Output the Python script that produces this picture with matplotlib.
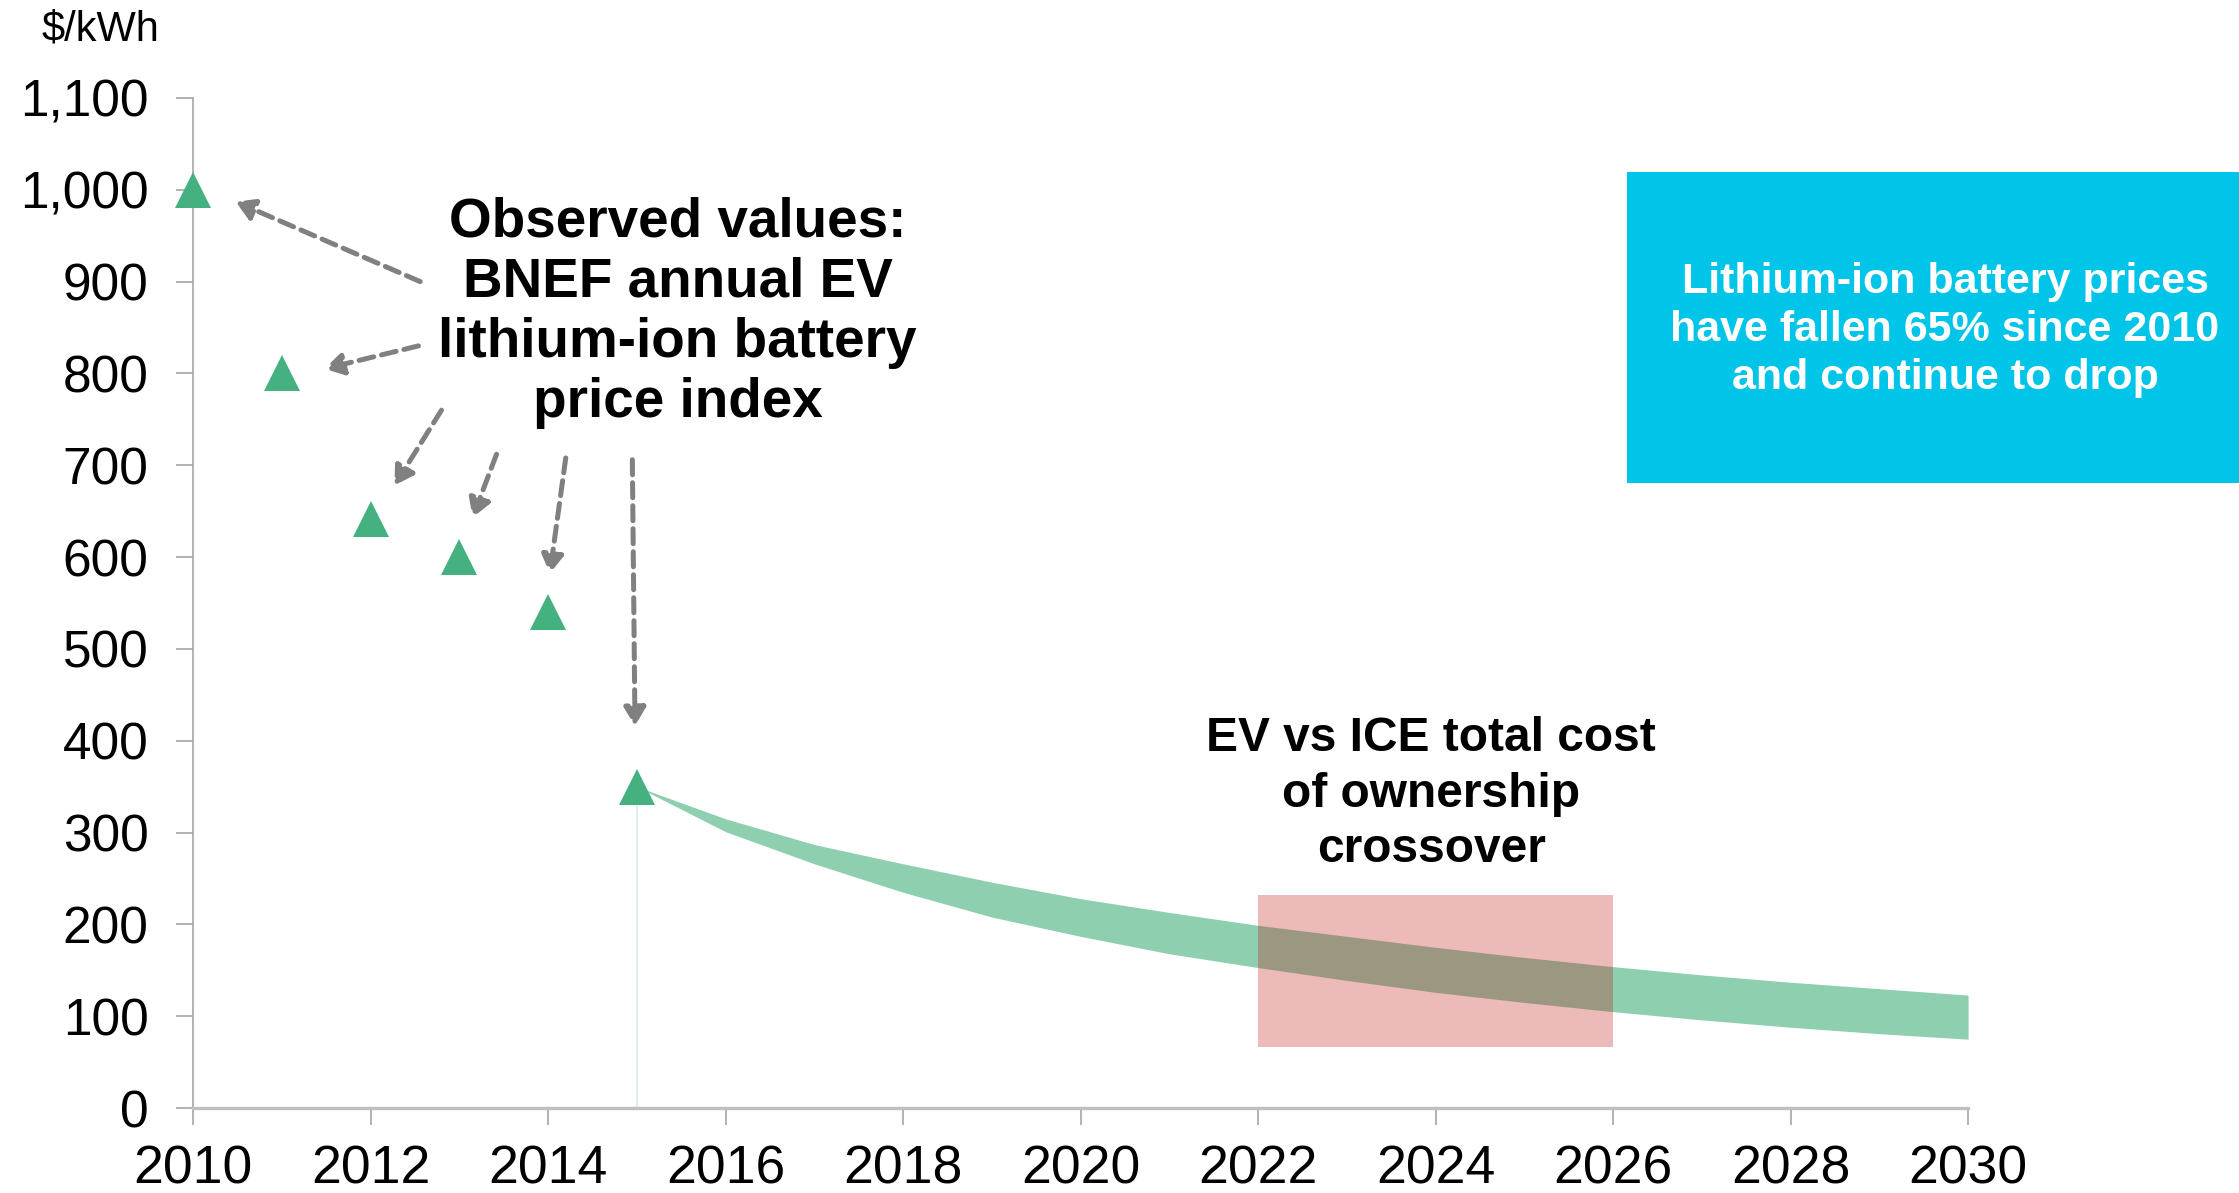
# Lithium-ion battery price index with projected band

import numpy as np
import matplotlib.pyplot as plt
from matplotlib.patches import Rectangle

plt.rcParams['font.family'] = ['Liberation Sans', 'DejaVu Sans']

# Observed values (BNEF annual index)
obs_years = [2010, 2011, 2012, 2013, 2014, 2015]
obs_price = [1000, 800, 642, 600, 540, 350]

# Projected band
band_years = [2015, 2016, 2017, 2018, 2019, 2020, 2021, 2022, 2023,
              2024, 2025, 2026, 2027, 2028, 2029, 2030]
band_upper = [350, 315, 287, 266, 246, 228, 213, 199, 187,
              175, 164, 154, 145, 137, 130, 123]
band_lower = [350, 301, 266, 235, 208, 187, 168, 153, 139,
              126, 115, 105, 96, 88, 81, 75]

# TCO crossover window
crossover_years = [2022, 2026]
crossover_price = [66, 232]

y_ticks = list(range(0, 1101, 100))
x_ticks = list(range(2010, 2031, 2))

fig = plt.figure(figsize=(22.39, 11.93), dpi=100)
ax = fig.add_axes([0.0862, 0.0712, 0.7928, 0.8467])

# faint line under the 2015 point
ax.plot([obs_years[-1], obs_years[-1]], [0, obs_price[-1]], color='#D6ECE4', lw=1.2, zorder=1)

ax.fill_between(band_years, band_lower, band_upper, color='#8ECFB0', lw=0, zorder=2)

ax.add_patch(Rectangle((crossover_years[0], crossover_price[0]),
                       crossover_years[1] - crossover_years[0],
                       crossover_price[1] - crossover_price[0],
                       facecolor='#C00000', alpha=0.27, lw=0, zorder=3))

ax.plot(obs_years, obs_price, linestyle='none', marker='^', markersize=26,
        color='#45B080', markeredgewidth=0, clip_on=False, zorder=5)

ax.set_xlim(2010, 2030)
ax.set_ylim(0, 1100)
ax.set_xticks(x_ticks)
ax.set_yticks(y_ticks)
ax.set_yticklabels([f'{v:,}' for v in y_ticks])
ax.tick_params(axis='y', labelsize=37, length=12, width=1.2, color='#A6A6A6', pad=20)
ax.tick_params(axis='x', labelsize=38.5, length=12, width=1.2, color='#A6A6A6', pad=14)

for s in ['top', 'right']:
    ax.spines[s].set_visible(False)
ax.spines['left'].set_color('#A6A6A6')
ax.spines['left'].set_linewidth(1.2)
ax.spines['bottom'].set_color('#BFBFBF')
ax.spines['bottom'].set_linewidth(2.4)

fig.text(0.0447, 0.975, '$/kWh', fontsize=30, ha='center', va='center')

# arrows from label to observed points
arrows = [((2012.56, 900), (2010.48, 987)),
          ((2012.54, 830), (2011.48, 805)),
          ((2012.80, 760), (2012.27, 678)),
          ((2013.42, 712), (2013.15, 643)),
          ((2014.20, 708), (2014.02, 582)),
          ((2014.95, 706), (2014.98, 416))]
for tail, head in arrows:
    ax.annotate('', xy=head, xytext=tail,
                arrowprops=dict(arrowstyle='-|>,head_length=1.1,head_width=0.65',
                                color='#808080', lw=3.6, linestyle=(0, (3, 1.6)),
                                shrinkA=0, shrinkB=0))

ax.text(2015.46, 866, 'Observed values:\nBNEF annual EV\nlithium-ion battery\nprice index',
        fontsize=39.5, fontweight='bold', ha='center', va='center', linespacing=1.2)

ax.text(2023.95, 342, 'EV vs ICE total cost\nof ownership\ncrossover',
        fontsize=34.5, fontweight='bold', ha='center', va='center', linespacing=1.3)

# info box
fig.add_artist(Rectangle((0.7267, 0.5951), 0.2733, 0.2607, transform=fig.transFigure,
                         facecolor='#00C4E8', edgecolor='none'))
fig.text(0.8687, 0.7234, 'Lithium-ion battery prices\nhave fallen 65% since 2010\nand continue to drop',
         fontsize=31, fontweight='bold', color='white', ha='center', va='center', linespacing=1.26)

plt.savefig('out.png', dpi=100)
